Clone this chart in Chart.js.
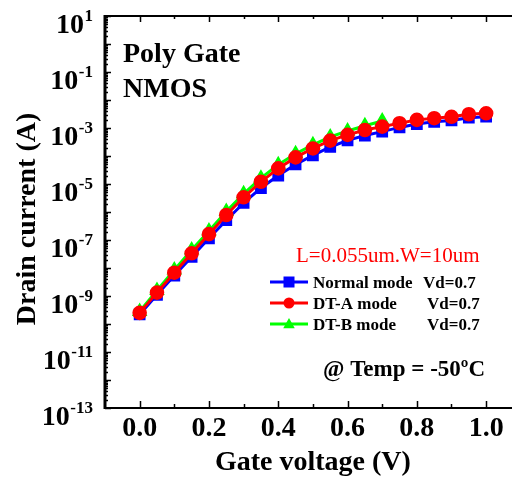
<!DOCTYPE html>
<html>
<head>
<meta charset="utf-8">
<script src="https://cdn.jsdelivr.net/npm/chart.js@4.4.0/dist/chart.umd.min.js"></script>
<style>
html, body { margin: 0; padding: 0; overflow: hidden; background: #fff; }
</style>
</head>
<body>
<canvas id="myChart" width="530" height="483"></canvas>
<script>
// gate voltage (V)
const gateVoltage = [0.00, 0.05, 0.10, 0.15, 0.20, 0.25, 0.30, 0.35, 0.40, 0.45, 0.50,
                     0.55, 0.60, 0.65, 0.70, 0.75, 0.80, 0.85, 0.90, 0.95, 1.00];
// drain current (A)
const normalMode = [2.2e-10, 1.1e-9, 5.4e-9, 2.5e-8, 1.15e-7, 5.1e-7, 2.1e-6, 7.2e-6, 2.0e-5, 5.0e-5, 1.05e-4,
                    2.1e-4, 3.6e-4, 5.4e-4, 7.4e-4, 1.05e-3, 1.38e-3, 1.66e-3, 1.86e-3, 2.34e-3, 2.54e-3];
const dtAMode = [2.5e-10, 1.32e-9, 6.8e-9, 3.35e-8, 1.62e-7, 7.8e-7, 3.35e-6, 1.2e-5, 3.6e-5, 8.9e-5, 1.86e-4,
                 3.55e-4, 5.7e-4, 8.5e-4, 1.12e-3, 1.48e-3, 1.95e-3, 2.24e-3, 2.51e-3, 3.1e-3, 3.35e-3];
const dtBMode = [2.8e-10, 1.58e-9, 8.5e-9, 4.4e-8, 2.1e-7, 1.05e-6, 4.5e-6, 1.62e-5, 4.9e-5, 1.2e-4, 2.5e-4,
                 4.8e-4, 7.8e-4, 1.2e-3, 1.78e-3];

const xTickLabels = ['0.0', '0.2', '0.4', '0.6', '0.8', '1.0'];
const yTickExponents = [1, -1, -3, -5, -7, -9, -11, -13];
const legendNames = ['Normal mode', 'DT-A mode', 'DT-B mode'];
const legendVd = ['Vd=0.7', 'Vd=0.7', 'Vd=0.7'];

const FONT = "'Liberation Serif', 'Times New Roman', serif";

function pts(ys) {
    return ys.map((y, i) => ({x: gateVoltage[i], y: y}));
}

function marker(ctx, style, x, y, r, color) {
    ctx.fillStyle = color;
    ctx.beginPath();
    if (style === 'rect') {
        ctx.rect(x - r, y - r, 2 * r, 2 * r);
    } else if (style === 'circle') {
        ctx.arc(x, y, r, 0, Math.PI * 2);
    } else {
        ctx.moveTo(x, y - r * 1.1);
        ctx.lineTo(x + r * 1.05, y + r * 0.75);
        ctx.lineTo(x - r * 1.05, y + r * 0.75);
        ctx.closePath();
    }
    ctx.fill();
}

const decor = {
    id: 'decor',
    afterDraw(chart) {
        const ctx = chart.ctx;
        const a = chart.chartArea;
        const xs = chart.scales.x;
        const ys = chart.scales.y;
        ctx.save();
        ctx.strokeStyle = '#000';
        ctx.fillStyle = '#000';

        // frame
        ctx.lineWidth = 2;
        ctx.beginPath();
        ctx.moveTo(a.left, a.top); ctx.lineTo(a.right, a.top);
        ctx.moveTo(a.left, a.bottom); ctx.lineTo(a.right, a.bottom);
        ctx.stroke();
        ctx.lineWidth = 3;
        ctx.beginPath();
        ctx.moveTo(a.left, a.top - 1); ctx.lineTo(a.left, a.bottom + 1);
        ctx.stroke();

        // x ticks (inside, top and bottom)
        ctx.lineWidth = 1.5;
        ctx.beginPath();
        for (let k = 0; k <= 10; k++) {
            const px = Math.round(xs.getPixelForValue(k / 10)) + 0.5;
            const major = k % 2 === 0;
            ctx.moveTo(px, a.bottom); ctx.lineTo(px, a.bottom - (major ? 7 : 4));
            ctx.moveTo(px, a.top); ctx.lineTo(px, a.top + (major ? 6 : 3));
        }
        ctx.stroke();

        // y ticks (log, inside)
        ctx.beginPath();
        for (let e = -13; e <= 1; e++) {
            let py = Math.round(ys.getPixelForValue(Math.pow(10, e))) + 0.5;
            ctx.moveTo(a.left, py); ctx.lineTo(a.left + 6, py);
            if (e < 1) {
                for (let m = 2; m <= 9; m++) {
                    py = Math.round(ys.getPixelForValue(m * Math.pow(10, e))) + 0.5;
                    ctx.moveTo(a.left, py); ctx.lineTo(a.left + 3, py);
                }
            }
        }
        ctx.stroke();

        // x tick labels
        ctx.font = 'bold 28px ' + FONT;
        ctx.textAlign = 'center';
        ctx.textBaseline = 'alphabetic';
        xTickLabels.forEach(t => {
            ctx.fillText(t, xs.getPixelForValue(parseFloat(t)), 436);
        });

        // y tick labels 10^n
        yTickExponents.forEach(e => {
            const py = ys.getPixelForValue(Math.pow(10, e));
            const sup = String(e);
            ctx.textAlign = 'right';
            ctx.font = 'bold 17px ' + FONT;
            const w = ctx.measureText(sup).width;
            ctx.fillText(sup, 93, py + 5);
            ctx.font = 'bold 28px ' + FONT;
            ctx.fillText('10', 93 - w - 0.5, py + 17);
        });

        // axis titles
        ctx.font = 'bold 28px ' + FONT;
        ctx.textAlign = 'center';
        ctx.fillText('Gate voltage (V)', xs.getPixelForValue(0.5), 470);
        ctx.save();
        ctx.translate(35, 219);
        ctx.rotate(-Math.PI / 2);
        ctx.fillText('Drain current (A)', 0, 0);
        ctx.restore();

        // annotations
        ctx.textAlign = 'left';
        ctx.fillText('Poly Gate', 123, 62);
        ctx.fillText('NMOS', 123, 97);
        ctx.font = 'bold 23px ' + FONT;
        ctx.fillText('@ Temp = -50\u00baC', 323, 376);
        ctx.font = '21px ' + FONT;
        ctx.fillStyle = '#ff0000';
        ctx.fillText('L=0.055um.W=10um', 296, 262);

        // legend
        const ds = chart.data.datasets;
        const rowY = [282, 303, 324];
        const vdX = [423, 427, 427];
        ds.forEach((d, i) => {
            const y = rowY[i];
            ctx.strokeStyle = d.borderColor;
            ctx.lineWidth = 3;
            ctx.beginPath();
            ctx.moveTo(270, y); ctx.lineTo(308, y);
            ctx.stroke();
            marker(ctx, d.pointStyle, 289, y, 5.5, d.backgroundColor);
            ctx.fillStyle = '#000';
            ctx.font = 'bold 17px ' + FONT;
            ctx.fillText(legendNames[i], 313, y + 5.5);
            ctx.fillText(legendVd[i], vdX[i], y + 5.5);
        });
        ctx.restore();
    }
};

const canvas = document.getElementById('myChart').getContext('2d');
const myChart = new Chart(canvas, {
    type: 'line',
    data: {
        datasets: [
            {
                label: 'Normal mode',
                data: pts(normalMode),
                borderColor: '#0000ff',
                backgroundColor: '#0000ff',
                pointStyle: 'rect',
                pointRadius: 6.2,
                borderWidth: 3,
                order: 2
            },
            {
                label: 'DT-A mode',
                data: pts(dtAMode),
                borderColor: '#ff0000',
                backgroundColor: '#ff0000',
                pointStyle: 'circle',
                pointRadius: 5.8,
                borderWidth: 3,
                order: 0
            },
            {
                label: 'DT-B mode',
                data: pts(dtBMode),
                borderColor: '#00ff00',
                backgroundColor: '#00ff00',
                pointStyle: 'triangle',
                pointRadius: 6,
                borderWidth: 3,
                order: 1
            }
        ]
    },
    options: {
        responsive: false,
        animation: false,
        layout: {padding: {top: 16, right: 9, left: 0, bottom: 0}},
        elements: {point: {borderWidth: 0}, line: {tension: 0}},
        plugins: {legend: {display: false}, tooltip: {enabled: false}},
        scales: {
            x: {
                type: 'linear',
                min: -0.1,
                max: 1.1,
                grid: {display: false, drawTicks: false},
                border: {display: false},
                ticks: {display: false},
                afterFit: s => { s.height = 75; }
            },
            y: {
                type: 'logarithmic',
                min: 1e-13,
                max: 10,
                grid: {display: false, drawTicks: false},
                border: {display: false},
                ticks: {display: false},
                afterFit: s => { s.width = 105; }
            }
        }
    },
    plugins: [decor]
});
</script>
</body>
</html>
